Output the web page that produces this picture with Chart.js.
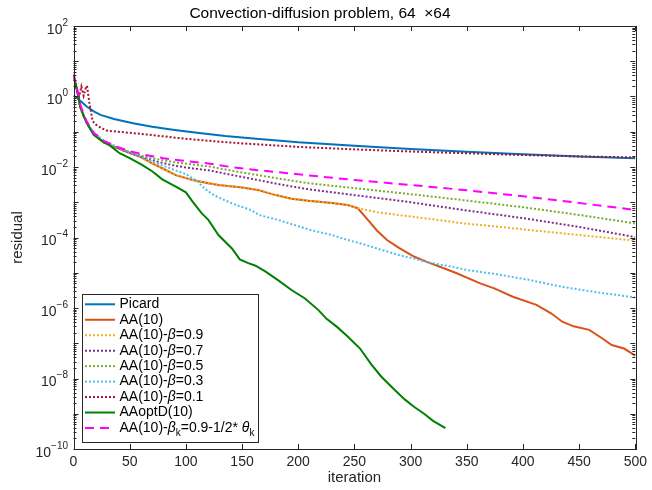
<!DOCTYPE html>
<html>
<head>
<meta charset="utf-8">
<script src="https://cdn.jsdelivr.net/npm/chart.js@4.4.0/dist/chart.umd.min.js"></script>
<style>
  html, body { margin: 0; padding: 0; background: #fff; }
  #wrap { width: 652px; height: 490px; }
</style>
</head>
<body>
<div id="wrap"><canvas id="myChart" width="652" height="490"></canvas></div>
<script>
// values are log10(residual)
const picardIt = [0, 3, 6, 12, 18, 24, 36, 53, 70, 90, 110, 135, 160, 200, 250, 300, 350, 400, 450, 500];
const picardLog = [0.03, -0.04, -0.12, -0.29, -0.42, -0.52, -0.64, -0.76, -0.86, -0.95, -1.03, -1.12, -1.19, -1.3, -1.4, -1.49, -1.57, -1.64, -1.7, -1.75];

const aaIt = [0, 3, 6, 9, 12, 18, 27, 38, 50, 60, 70, 80, 91, 106, 120, 129, 150, 164, 179, 194, 209, 230, 244, 253, 262, 270, 279, 290, 303, 315, 326, 340, 362, 375, 391, 412, 425, 435, 445, 459, 470, 479, 490, 500];
const aaLog = [0.6, 0.2, -0.29, -0.55, -0.76, -1.07, -1.3, -1.45, -1.6, -1.72, -1.9, -2.05, -2.23, -2.37, -2.46, -2.51, -2.58, -2.65, -2.79, -2.9, -2.96, -3.02, -3.08, -3.17, -3.5, -3.8, -4.07, -4.3, -4.54, -4.7, -4.83, -5.0, -5.3, -5.45, -5.68, -5.91, -6.15, -6.39, -6.52, -6.62, -6.85, -7.05, -7.15, -7.35];

const b09It = [0, 3, 6, 9, 12, 18, 27, 38, 50, 60, 70, 80, 91, 106, 120, 129, 150, 164, 179, 194, 209, 230, 244, 253, 270, 288, 320, 347, 380, 406, 450, 500];
const b09Log = [0.6, 0.2, -0.29, -0.55, -0.76, -1.07, -1.3, -1.45, -1.6, -1.72, -1.9, -2.05, -2.23, -2.37, -2.46, -2.51, -2.58, -2.65, -2.79, -2.9, -2.96, -3.02, -3.08, -3.17, -3.28, -3.36, -3.48, -3.6, -3.7, -3.79, -3.93, -4.09];

const b07It = [0, 3, 6, 9, 12, 18, 27, 38, 50, 61, 75, 91, 106, 120, 140, 164, 185, 209, 250, 300, 347, 400, 450, 500];
const b07Log = [0.6, 0.2, -0.29, -0.55, -0.76, -1.07, -1.3, -1.45, -1.6, -1.72, -1.85, -1.97, -2.04, -2.09, -2.22, -2.37, -2.5, -2.63, -2.8, -3.0, -3.22, -3.45, -3.7, -3.99];

const b05It = [0, 3, 6, 9, 12, 18, 27, 38, 50, 61, 75, 91, 106, 120, 140, 164, 185, 209, 250, 300, 347, 400, 450, 500];
const b05Log = [0.6, 0.2, -0.29, -0.55, -0.76, -1.07, -1.3, -1.44, -1.57, -1.68, -1.78, -1.87, -1.93, -1.98, -2.1, -2.23, -2.34, -2.46, -2.6, -2.77, -2.94, -3.14, -3.36, -3.6];

const b03It = [0, 3, 6, 9, 12, 18, 27, 38, 50, 61, 75, 91, 100, 110, 117, 125, 135, 145, 158, 165, 182, 197, 209, 218, 230, 244, 259, 274, 290, 303, 318, 332, 350, 376, 405, 435, 465, 500];
const b03Log = [0.6, 0.2, -0.27, -0.52, -0.72, -1.02, -1.25, -1.42, -1.58, -1.72, -1.9, -2.1, -2.2, -2.4, -2.62, -2.8, -2.95, -3.08, -3.22, -3.36, -3.5, -3.65, -3.77, -3.84, -3.93, -4.07, -4.2, -4.35, -4.5, -4.6, -4.72, -4.8, -4.92, -5.04, -5.2, -5.4, -5.55, -5.7];

const b01It = [0, 3, 5, 7, 9, 11, 12, 14, 17, 20, 25, 30, 40, 50, 60, 80, 100, 125, 150, 175, 200, 250, 300, 350, 400, 450, 500];
const b01Log = [0.6, 0.2, 0.0, 0.28, 0.02, 0.25, 0.3, -0.15, -0.7, -0.8, -0.9, -0.97, -1.0, -1.03, -1.06, -1.13, -1.2, -1.27, -1.33, -1.38, -1.43, -1.5, -1.56, -1.61, -1.66, -1.7, -1.73];

const optIt = [0, 3, 6, 9, 12, 18, 27, 32, 41, 50, 61, 70, 79, 91, 100, 106, 114, 120, 129, 141, 148, 155, 162, 171, 182, 194, 206, 218, 225, 235, 244, 255, 265, 274, 285, 295, 303, 312, 320, 331];
const optLog = [0.6, 0.2, -0.29, -0.55, -0.76, -1.09, -1.3, -1.38, -1.61, -1.75, -1.94, -2.12, -2.35, -2.56, -2.72, -2.98, -3.31, -3.5, -3.93, -4.31, -4.62, -4.72, -4.8, -4.97, -5.21, -5.49, -5.73, -6.06, -6.3, -6.55, -6.81, -7.15, -7.6, -7.95, -8.3, -8.6, -8.8, -9.0, -9.2, -9.41];

const bkIt = [0, 3, 6, 9, 12, 18, 27, 38, 50, 64, 80, 100, 120, 140, 164, 198, 250, 300, 347, 400, 450, 500];
const bkLog = [0.65, 0.25, -0.22, -0.5, -0.72, -1.03, -1.26, -1.42, -1.55, -1.66, -1.75, -1.83, -1.9, -2.0, -2.09, -2.2, -2.37, -2.51, -2.65, -2.83, -3.02, -3.22];

const xTicks = [0, 50, 100, 150, 200, 250, 300, 350, 400, 450, 500];
const yExpLabels = [2, 0, -2, -4, -6, -8, -10];

const FONT = 'Liberation Sans, Arial, Helvetica, sans-serif';

function pts(it, lg) {
  return it.map((x, i) => ({ x: x, y: Math.pow(10, lg[i]) }));
}

const series = [
  { label: 'Picard', it: picardIt, lg: picardLog, color: '#0072BD', dash: [] },
  { label: 'AA(10)', it: aaIt, lg: aaLog, color: '#D95319', dash: [] },
  { label: 'AA(10)-β=0.9', it: b09It, lg: b09Log, color: '#EDB120', dash: [2, 2] },
  { label: 'AA(10)-β=0.7', it: b07It, lg: b07Log, color: '#7E2F8E', dash: [2, 2] },
  { label: 'AA(10)-β=0.5', it: b05It, lg: b05Log, color: '#77AC30', dash: [2, 2] },
  { label: 'AA(10)-β=0.3', it: b03It, lg: b03Log, color: '#4DBEEE', dash: [2, 2] },
  { label: 'AA(10)-β=0.1', it: b01It, lg: b01Log, color: '#A2142F', dash: [2, 2] },
  { label: 'AAoptD(10)', it: optIt, lg: optLog, color: '#008000', dash: [] },
  { label: 'AA(10)-β_k=0.9-1/2* θ_k', it: bkIt, lg: bkLog, color: '#FF00FF', dash: [9, 6] }
];

const datasets = series.map((s, i) => ({
  label: s.label,
  data: pts(s.it, s.lg),
  borderColor: s.color,
  backgroundColor: s.color,
  borderDash: s.dash,
  borderWidth: 2,
  pointRadius: 0,
  tension: 0,
  fill: false,
  order: series.length - i
}));

// draws label with italic greek letters and _k subscripts
function richText(ctx, str, x, y, size) {
  let cx = x;
  for (let i = 0; i < str.length; i++) {
    let ch = str[i];
    if (ch === '_') {
      const sub = str[i + 1];
      i++;
      ctx.font = (size - 4) + 'px ' + FONT;
      ctx.fillText(sub, cx, y + 5);
      cx += ctx.measureText(sub).width;
      continue;
    }
    const greek = /[α-ω]/.test(ch);
    ctx.font = (greek ? 'italic ' : '') + size + 'px ' + FONT;
    ctx.fillText(ch, cx, y);
    cx += ctx.measureText(ch).width;
  }
}

const matlabAxes = {
  id: 'matlabAxes',
  afterDraw(chart) {
    const ctx = chart.ctx;
    const a = chart.chartArea;
    const xs = chart.scales.x;
    const ys = chart.scales.y;
    ctx.save();
    ctx.strokeStyle = '#262626';
    ctx.lineWidth = 1;
    ctx.setLineDash([]);
    ctx.strokeRect(Math.round(a.left) + 0.5, Math.round(a.top) + 0.5, Math.round(a.right - a.left), Math.round(a.bottom - a.top));

    ctx.beginPath();
    xTicks.forEach(v => {
      const px = Math.round(xs.getPixelForValue(v)) + 0.5;
      ctx.moveTo(px, a.bottom); ctx.lineTo(px, a.bottom - 5);
      ctx.moveTo(px, a.top); ctx.lineTo(px, a.top + 5);
    });
    for (let e = -10; e <= 2; e++) {
      const py = Math.round(ys.getPixelForValue(Math.pow(10, e))) + 0.5;
      ctx.moveTo(a.left, py); ctx.lineTo(a.left + 5, py);
      ctx.moveTo(a.right, py); ctx.lineTo(a.right - 5, py);
      if (e < 2) {
        for (let m = 2; m <= 9; m++) {
          const my = Math.round(ys.getPixelForValue(m * Math.pow(10, e))) + 0.5;
          ctx.moveTo(a.left, my); ctx.lineTo(a.left + 3, my);
          ctx.moveTo(a.right, my); ctx.lineTo(a.right - 3, my);
        }
      }
    }
    ctx.stroke();

    // y tick labels 10^e
    ctx.fillStyle = '#262626';
    ctx.textBaseline = 'middle';
    yExpLabels.forEach(e => {
      const py = ys.getPixelForValue(Math.pow(10, e));
      const ex = String(e).replace('-', '\u2212');
      ctx.font = '10px ' + FONT;
      const ew = ctx.measureText(ex).width;
      ctx.textAlign = 'left';
      ctx.fillText(ex, 68 - ew, py - 3);
      ctx.font = '14px ' + FONT;
      const bw = ctx.measureText('10').width;
      ctx.fillText('10', 68 - ew - bw, py + 4);
    });

    // legend box
    const lx = 82, ly = 294, lw = 176, lh = 148;
    ctx.fillStyle = '#fff';
    ctx.fillRect(lx, ly, lw, lh);
    ctx.strokeStyle = '#262626';
    ctx.strokeRect(lx + 0.5, ly + 0.5, lw, lh);
    chart.data.datasets.forEach((ds, i) => {
      const ry = 304.3 + i * 15.46;
      ctx.strokeStyle = ds.borderColor;
      ctx.lineWidth = 2;
      ctx.setLineDash(ds.borderDash);
      ctx.beginPath();
      ctx.moveTo(85, ry); ctx.lineTo(115, ry);
      ctx.stroke();
      ctx.setLineDash([]);
      ctx.fillStyle = '#000';
      ctx.textAlign = 'left';
      ctx.textBaseline = 'middle';
      richText(ctx, ds.label, 119.5, ry, 14);
    });
    ctx.restore();
  }
};

new Chart(document.getElementById('myChart'), {
  type: 'line',
  data: { datasets: datasets },
  options: {
    responsive: false,
    animation: false,
    layout: { padding: { left: 0, right: 12, top: 0, bottom: 0 } },
    plugins: {
      legend: { display: false },
      tooltip: { enabled: false },
      title: {
        display: true,
        text: 'Convection-diffusion problem, 64  \u00d764',
        color: '#000',
        font: { family: FONT, size: 15.5, weight: 'normal' },
        padding: { top: 4, bottom: 3.4 }
      }
    },
    scales: {
      x: {
        type: 'linear', min: 0, max: 500,
        grid: { display: false, drawTicks: false },
        border: { display: false },
        afterBuildTicks: s => { s.ticks = xTicks.map(v => ({ value: v })); },
        ticks: { color: '#262626', font: { family: FONT, size: 14 }, padding: 5, maxRotation: 0 },
        title: { display: true, text: 'iteration', color: '#262626', font: { family: FONT, size: 15 }, padding: { top: 0, bottom: 3 } },
        afterFit: s => { s.height = 41; }
      },
      y: {
        type: 'logarithmic', min: 1e-10, max: 100,
        grid: { display: false, drawTicks: false },
        border: { display: false },
        ticks: { display: false },
        title: { display: true, text: 'residual', color: '#262626', font: { family: FONT, size: 15 }, padding: { top: 9, bottom: 0 } },
        afterFit: s => { s.width = 73.5; }
      }
    }
  },
  plugins: [matlabAxes]
});
</script>
</body>
</html>
